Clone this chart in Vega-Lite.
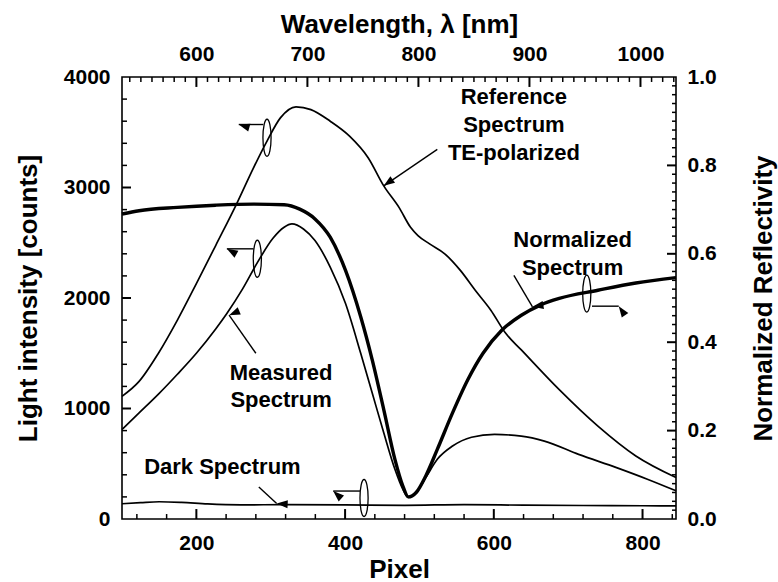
{
  "$schema": "https://vega.github.io/schema/vega-lite/v6.json",
  "autosize": {"type": "none"},
  "padding": {"left": 122, "top": 77, "right": 102, "bottom": 63},
  "width": 554,
  "height": 442,
  "background": "white",
  "config": {
    "view": {"stroke": "black", "strokeWidth": 1.6},
    "axis": {
      "labelFont": "Liberation Sans", "labelFontWeight": "bold", "labelFontSize": 21, "labelColor": "black",
      "titleFont": "Liberation Sans", "titleFontWeight": "bold", "titleFontSize": 26, "titleColor": "black",
      "grid": false, "ticks": false, "domain": false
    }
  },
  "datasets": {
    "curves": [
      {"series": "Reference", "pixel": 100, "counts": 1110},
      {"series": "Reference", "pixel": 123, "counts": 1245},
      {"series": "Reference", "pixel": 149, "counts": 1500},
      {"series": "Reference", "pixel": 174.5, "counts": 1800},
      {"series": "Reference", "pixel": 200, "counts": 2130},
      {"series": "Reference", "pixel": 226, "counts": 2475},
      {"series": "Reference", "pixel": 254, "counts": 2850},
      {"series": "Reference", "pixel": 277, "counts": 3180},
      {"series": "Reference", "pixel": 295, "counts": 3420},
      {"series": "Reference", "pixel": 313, "counts": 3630},
      {"series": "Reference", "pixel": 334, "counts": 3730},
      {"series": "Reference", "pixel": 354, "counts": 3705},
      {"series": "Reference", "pixel": 380, "counts": 3600},
      {"series": "Reference", "pixel": 406, "counts": 3465},
      {"series": "Reference", "pixel": 431, "counts": 3270},
      {"series": "Reference", "pixel": 452, "counts": 3015},
      {"series": "Reference", "pixel": 472.5, "counts": 2820},
      {"series": "Reference", "pixel": 488, "counts": 2640},
      {"series": "Reference", "pixel": 498, "counts": 2565},
      {"series": "Reference", "pixel": 513.6, "counts": 2490},
      {"series": "Reference", "pixel": 534, "counts": 2400},
      {"series": "Reference", "pixel": 555, "counts": 2250},
      {"series": "Reference", "pixel": 575, "counts": 2070},
      {"series": "Reference", "pixel": 596, "counts": 1890},
      {"series": "Reference", "pixel": 616, "counts": 1680},
      {"series": "Reference", "pixel": 637, "counts": 1530},
      {"series": "Reference", "pixel": 688, "counts": 1170},
      {"series": "Reference", "pixel": 740, "counts": 840},
      {"series": "Reference", "pixel": 791, "counts": 570},
      {"series": "Reference", "pixel": 845, "counts": 375},
      {"series": "Measured", "pixel": 100, "counts": 810},
      {"series": "Measured", "pixel": 123, "counts": 960},
      {"series": "Measured", "pixel": 149, "counts": 1130},
      {"series": "Measured", "pixel": 174.5, "counts": 1310},
      {"series": "Measured", "pixel": 200, "counts": 1500},
      {"series": "Measured", "pixel": 226, "counts": 1720},
      {"series": "Measured", "pixel": 241, "counts": 1860},
      {"series": "Measured", "pixel": 262, "counts": 2080},
      {"series": "Measured", "pixel": 282, "counts": 2320},
      {"series": "Measured", "pixel": 303, "counts": 2540},
      {"series": "Measured", "pixel": 318, "counts": 2640},
      {"series": "Measured", "pixel": 328.6, "counts": 2670},
      {"series": "Measured", "pixel": 344, "counts": 2625},
      {"series": "Measured", "pixel": 359.5, "counts": 2520},
      {"series": "Measured", "pixel": 380, "counts": 2280},
      {"series": "Measured", "pixel": 400.6, "counts": 1950},
      {"series": "Measured", "pixel": 421, "counts": 1500},
      {"series": "Measured", "pixel": 436.5, "counts": 1140},
      {"series": "Measured", "pixel": 452, "counts": 780},
      {"series": "Measured", "pixel": 467, "counts": 450},
      {"series": "Measured", "pixel": 477.6, "counts": 270},
      {"series": "Measured", "pixel": 485, "counts": 195},
      {"series": "Measured", "pixel": 495.6, "counts": 240},
      {"series": "Measured", "pixel": 508.5, "counts": 375},
      {"series": "Measured", "pixel": 524, "counts": 540},
      {"series": "Measured", "pixel": 544.5, "counts": 660},
      {"series": "Measured", "pixel": 570, "counts": 740},
      {"series": "Measured", "pixel": 601, "counts": 765},
      {"series": "Measured", "pixel": 637, "counts": 750},
      {"series": "Measured", "pixel": 668, "counts": 705},
      {"series": "Measured", "pixel": 714, "counts": 585},
      {"series": "Measured", "pixel": 765, "counts": 465},
      {"series": "Measured", "pixel": 806.5, "counts": 360},
      {"series": "Measured", "pixel": 845, "counts": 255},
      {"series": "Dark", "pixel": 100, "counts": 138},
      {"series": "Dark", "pixel": 125, "counts": 148},
      {"series": "Dark", "pixel": 150, "counts": 156},
      {"series": "Dark", "pixel": 180, "counts": 150},
      {"series": "Dark", "pixel": 215, "counts": 136},
      {"series": "Dark", "pixel": 260, "counts": 128},
      {"series": "Dark", "pixel": 320, "counts": 130},
      {"series": "Dark", "pixel": 400, "counts": 128},
      {"series": "Dark", "pixel": 480, "counts": 124},
      {"series": "Dark", "pixel": 560, "counts": 130},
      {"series": "Dark", "pixel": 640, "counts": 125},
      {"series": "Dark", "pixel": 720, "counts": 122},
      {"series": "Dark", "pixel": 800, "counts": 120},
      {"series": "Dark", "pixel": 845, "counts": 118}
    ],
    "normalized": [
      {"pixel": 100, "reflectivity": 0.69},
      {"pixel": 123, "reflectivity": 0.6975},
      {"pixel": 174.5, "reflectivity": 0.705},
      {"pixel": 226, "reflectivity": 0.71},
      {"pixel": 277, "reflectivity": 0.7125},
      {"pixel": 318, "reflectivity": 0.711},
      {"pixel": 339, "reflectivity": 0.701},
      {"pixel": 359.5, "reflectivity": 0.679},
      {"pixel": 380, "reflectivity": 0.6375},
      {"pixel": 400.6, "reflectivity": 0.5625},
      {"pixel": 421, "reflectivity": 0.4575},
      {"pixel": 436.5, "reflectivity": 0.36},
      {"pixel": 452, "reflectivity": 0.2475},
      {"pixel": 467, "reflectivity": 0.135},
      {"pixel": 477.6, "reflectivity": 0.075},
      {"pixel": 485, "reflectivity": 0.05},
      {"pixel": 495.6, "reflectivity": 0.06},
      {"pixel": 508.5, "reflectivity": 0.0975},
      {"pixel": 524, "reflectivity": 0.1575},
      {"pixel": 544.5, "reflectivity": 0.24},
      {"pixel": 565, "reflectivity": 0.315},
      {"pixel": 585.5, "reflectivity": 0.375},
      {"pixel": 611, "reflectivity": 0.4275},
      {"pixel": 637, "reflectivity": 0.461},
      {"pixel": 662.6, "reflectivity": 0.484},
      {"pixel": 688, "reflectivity": 0.499},
      {"pixel": 740, "reflectivity": 0.5175},
      {"pixel": 791, "reflectivity": 0.534},
      {"pixel": 845, "reflectivity": 0.546}
    ],
    "axisframe": [
      {"lambda": 533, "reflectivity": 0},
      {"lambda": 1032, "reflectivity": 1}
    ],
    "pixelMajor": [{"pixel": 200}, {"pixel": 400}, {"pixel": 600}, {"pixel": 800}],
    "pixelMinor": [{"pixel": 120}, {"pixel": 160}, {"pixel": 240}, {"pixel": 280}, {"pixel": 320}, {"pixel": 360}, {"pixel": 440}, {"pixel": 480}, {"pixel": 520}, {"pixel": 560}, {"pixel": 640}, {"pixel": 680}, {"pixel": 720}, {"pixel": 760}, {"pixel": 840}],
    "lambdaMajor": [{"lambda": 600}, {"lambda": 700}, {"lambda": 800}, {"lambda": 900}, {"lambda": 1000}],
    "lambdaMinor": [{"lambda": 540}, {"lambda": 550}, {"lambda": 560}, {"lambda": 570}, {"lambda": 580}, {"lambda": 590}, {"lambda": 610}, {"lambda": 620}, {"lambda": 630}, {"lambda": 640}, {"lambda": 650}, {"lambda": 660}, {"lambda": 670}, {"lambda": 680}, {"lambda": 690}, {"lambda": 710}, {"lambda": 720}, {"lambda": 730}, {"lambda": 740}, {"lambda": 750}, {"lambda": 760}, {"lambda": 770}, {"lambda": 780}, {"lambda": 790}, {"lambda": 810}, {"lambda": 820}, {"lambda": 830}, {"lambda": 840}, {"lambda": 850}, {"lambda": 860}, {"lambda": 870}, {"lambda": 880}, {"lambda": 890}, {"lambda": 910}, {"lambda": 920}, {"lambda": 930}, {"lambda": 940}, {"lambda": 950}, {"lambda": 960}, {"lambda": 970}, {"lambda": 980}, {"lambda": 990}, {"lambda": 1010}, {"lambda": 1020}, {"lambda": 1030}],
    "countsMajor": [{"counts": 1000}, {"counts": 2000}, {"counts": 3000}],
    "countsMinor": [{"counts": 200}, {"counts": 400}, {"counts": 600}, {"counts": 800}, {"counts": 1200}, {"counts": 1400}, {"counts": 1600}, {"counts": 1800}, {"counts": 2200}, {"counts": 2400}, {"counts": 2600}, {"counts": 2800}, {"counts": 3200}, {"counts": 3400}, {"counts": 3600}, {"counts": 3800}],
    "reflMajor": [{"reflectivity": 0.2}, {"reflectivity": 0.4}, {"reflectivity": 0.6}, {"reflectivity": 0.8}],
    "reflMinor": [{"reflectivity": 0.02}, {"reflectivity": 0.04}, {"reflectivity": 0.06}, {"reflectivity": 0.08}, {"reflectivity": 0.1}, {"reflectivity": 0.12}, {"reflectivity": 0.14}, {"reflectivity": 0.16}, {"reflectivity": 0.18}, {"reflectivity": 0.22}, {"reflectivity": 0.24}, {"reflectivity": 0.26}, {"reflectivity": 0.28}, {"reflectivity": 0.3}, {"reflectivity": 0.32}, {"reflectivity": 0.34}, {"reflectivity": 0.36}, {"reflectivity": 0.38}, {"reflectivity": 0.42}, {"reflectivity": 0.44}, {"reflectivity": 0.46}, {"reflectivity": 0.48}, {"reflectivity": 0.5}, {"reflectivity": 0.52}, {"reflectivity": 0.54}, {"reflectivity": 0.56}, {"reflectivity": 0.58}, {"reflectivity": 0.62}, {"reflectivity": 0.64}, {"reflectivity": 0.66}, {"reflectivity": 0.68}, {"reflectivity": 0.7}, {"reflectivity": 0.72}, {"reflectivity": 0.74}, {"reflectivity": 0.76}, {"reflectivity": 0.78}, {"reflectivity": 0.82}, {"reflectivity": 0.84}, {"reflectivity": 0.86}, {"reflectivity": 0.88}, {"reflectivity": 0.9}, {"reflectivity": 0.92}, {"reflectivity": 0.94}, {"reflectivity": 0.96}, {"reflectivity": 0.98}],
    "labels": [
      {"pixel": 627, "counts": 3821, "label": "Reference"},
      {"pixel": 627, "counts": 3566, "label": "Spectrum"},
      {"pixel": 627, "counts": 3309, "label": "TE-polarized"},
      {"pixel": 706, "counts": 2525, "label": "Normalized"},
      {"pixel": 706, "counts": 2270, "label": "Spectrum"},
      {"pixel": 314, "counts": 1318, "label": "Measured"},
      {"pixel": 314, "counts": 1077, "label": "Spectrum"},
      {"pixel": 235, "counts": 470, "label": "Dark Spectrum"}
    ],
    "arrows": [
      {"name": "ref", "pixel": 524, "counts": 3345, "pixel2": 452, "counts2": 3015},
      {"name": "meas", "pixel": 280, "counts": 1500, "pixel2": 244, "counts2": 1845},
      {"name": "norm", "pixel": 627, "counts": 2205, "pixel2": 652, "counts2": 1920},
      {"name": "dark", "pixel": 284, "counts": 290, "pixel2": 308, "counts2": 140},
      {"name": "refE", "pixel": 290, "counts": 3570, "pixel2": 257, "counts2": 3570},
      {"name": "measE", "pixel": 277, "counts": 2445, "pixel2": 241, "counts2": 2445},
      {"name": "darkE", "pixel": 420, "counts": 253, "pixel2": 384, "counts2": 253},
      {"name": "normE", "pixel": 732, "counts": 1926, "pixel2": 768, "counts2": 1926}
    ],
    "ellipses": [
      {"pixel": 295, "counts": 3450},
      {"pixel": 282, "counts": 2355},
      {"pixel": 425.5, "counts": 190},
      {"pixel": 725, "counts": 2040}
    ]
  },
  "layer": [
    {
      "data": {"name": "curves"},
      "mark": {"type": "line", "color": "black", "strokeWidth": 1.7, "interpolate": "monotone"},
      "encoding": {
        "x": {"field": "pixel", "type": "quantitative",
          "scale": {"domain": [100, 845], "nice": false, "zero": false},
          "axis": {"orient": "bottom", "values": [200, 400, 600, 800], "format": "d", "labelPadding": 13, "title": "Pixel", "titlePadding": 3}},
        "y": {"field": "counts", "type": "quantitative",
          "scale": {"domain": [0, 4000], "nice": false, "zero": false},
          "axis": {"orient": "left", "values": [0, 1000, 2000, 3000, 4000], "format": "d", "labelPadding": 12,
            "title": "Light intensity [counts]", "titleAngle": 270, "titleX": -94, "titleY": 221, "titleBaseline": "middle", "titleAlign": "center"}},
        "detail": {"field": "series", "type": "nominal"}
      }
    },
    {
      "data": {"name": "normalized"},
      "mark": {"type": "line", "color": "black", "strokeWidth": 3.4, "interpolate": "monotone"},
      "encoding": {
        "x": {"field": "pixel", "type": "quantitative", "scale": {"domain": [100, 845], "nice": false, "zero": false}, "axis": null},
        "y": {"field": "reflectivity", "type": "quantitative",
          "scale": {"domain": [0, 1], "nice": false, "zero": false},
          "axis": {"orient": "right", "values": [0, 0.2, 0.4, 0.6, 0.8, 1.0], "format": ".1f", "labelPadding": 11,
            "title": "Normalized Reflectivity", "titleAngle": 270, "titleX": 87, "titleY": 221, "titleBaseline": "middle", "titleAlign": "center"}}
      }
    },
    {
      "data": {"name": "axisframe"},
      "mark": {"type": "point", "opacity": 0},
      "encoding": {
        "x": {"field": "lambda", "type": "quantitative",
          "scale": {"domain": [533, 1032], "nice": false, "zero": false},
          "axis": {"orient": "top", "values": [600, 700, 800, 900, 1000], "format": "d", "labelPadding": 13, "title": "Wavelength, λ [nm]", "titlePadding": 6}},
        "y": {"field": "reflectivity", "type": "quantitative", "scale": {"domain": [0, 1], "nice": false, "zero": false}, "axis": null}
      }
    },
    {
      "data": {"name": "pixelMajor"},
      "mark": {"type": "rule", "color": "black", "strokeWidth": 2},
      "encoding": {
        "x": {"field": "pixel", "type": "quantitative", "scale": {"domain": [100, 845], "nice": false, "zero": false}, "axis": null},
        "y": {"datum": 0, "type": "quantitative", "scale": {"domain": [0, 4000], "nice": false, "zero": false}, "axis": null},
        "y2": {"datum": 90}
      }
    },
    {
      "data": {"name": "pixelMinor"},
      "mark": {"type": "rule", "color": "black", "strokeWidth": 1.5},
      "encoding": {
        "x": {"field": "pixel", "type": "quantitative", "scale": {"domain": [100, 845], "nice": false, "zero": false}, "axis": null},
        "y": {"datum": 0, "type": "quantitative", "scale": {"domain": [0, 4000], "nice": false, "zero": false}, "axis": null},
        "y2": {"datum": 45}
      }
    },
    {
      "data": {"name": "lambdaMajor"},
      "mark": {"type": "rule", "color": "black", "strokeWidth": 2},
      "encoding": {
        "x": {"field": "lambda", "type": "quantitative", "scale": {"domain": [533, 1032], "nice": false, "zero": false}, "axis": null},
        "y": {"datum": 4000, "type": "quantitative", "scale": {"domain": [0, 4000], "nice": false, "zero": false}, "axis": null},
        "y2": {"datum": 3910}
      }
    },
    {
      "data": {"name": "lambdaMinor"},
      "mark": {"type": "rule", "color": "black", "strokeWidth": 1.5},
      "encoding": {
        "x": {"field": "lambda", "type": "quantitative", "scale": {"domain": [533, 1032], "nice": false, "zero": false}, "axis": null},
        "y": {"datum": 4000, "type": "quantitative", "scale": {"domain": [0, 4000], "nice": false, "zero": false}, "axis": null},
        "y2": {"datum": 3955}
      }
    },
    {
      "data": {"name": "countsMajor"},
      "mark": {"type": "rule", "color": "black", "strokeWidth": 2},
      "encoding": {
        "y": {"field": "counts", "type": "quantitative", "scale": {"domain": [0, 4000], "nice": false, "zero": false}, "axis": null},
        "x": {"datum": 100, "type": "quantitative", "scale": {"domain": [100, 845], "nice": false, "zero": false}, "axis": null},
        "x2": {"datum": 112.1}
      }
    },
    {
      "data": {"name": "countsMinor"},
      "mark": {"type": "rule", "color": "black", "strokeWidth": 1.5},
      "encoding": {
        "y": {"field": "counts", "type": "quantitative", "scale": {"domain": [0, 4000], "nice": false, "zero": false}, "axis": null},
        "x": {"datum": 100, "type": "quantitative", "scale": {"domain": [100, 845], "nice": false, "zero": false}, "axis": null},
        "x2": {"datum": 106.7}
      }
    },
    {
      "data": {"name": "reflMajor"},
      "mark": {"type": "rule", "color": "black", "strokeWidth": 2},
      "encoding": {
        "y": {"field": "reflectivity", "type": "quantitative", "scale": {"domain": [0, 1], "nice": false, "zero": false}, "axis": null},
        "x": {"datum": 845, "type": "quantitative", "scale": {"domain": [100, 845], "nice": false, "zero": false}, "axis": null},
        "x2": {"datum": 832.9}
      }
    },
    {
      "data": {"name": "reflMinor"},
      "mark": {"type": "rule", "color": "black", "strokeWidth": 1.5},
      "encoding": {
        "y": {"field": "reflectivity", "type": "quantitative", "scale": {"domain": [0, 1], "nice": false, "zero": false}, "axis": null},
        "x": {"datum": 845, "type": "quantitative", "scale": {"domain": [100, 845], "nice": false, "zero": false}, "axis": null},
        "x2": {"datum": 839.6}
      }
    },
    {
      "data": {"name": "labels"},
      "mark": {"type": "text", "font": "Liberation Sans", "fontWeight": "bold", "fontSize": 22, "color": "black", "align": "center", "baseline": "middle"},
      "encoding": {
        "x": {"field": "pixel", "type": "quantitative", "scale": {"domain": [100, 845], "nice": false, "zero": false}, "axis": null},
        "y": {"field": "counts", "type": "quantitative", "scale": {"domain": [0, 4000], "nice": false, "zero": false}, "axis": null},
        "text": {"field": "label", "type": "nominal"}
      }
    },
    {
      "data": {"name": "arrows"},
      "mark": {"type": "rule", "color": "black", "strokeWidth": 1.4},
      "encoding": {
        "x": {"field": "pixel", "type": "quantitative", "scale": {"domain": [100, 845], "nice": false, "zero": false}, "axis": null},
        "x2": {"field": "pixel2"},
        "y": {"field": "counts", "type": "quantitative", "scale": {"domain": [0, 4000], "nice": false, "zero": false}, "axis": null},
        "y2": {"field": "counts2"}
      }
    },
    {
      "data": {"name": "arrows"},
      "mark": {"type": "point", "shape": "M0,0L0.8,2.2L-0.8,2.2Z", "filled": true, "color": "black", "size": 100, "opacity": 1},
      "encoding": {
        "x": {"field": "pixel2", "type": "quantitative", "scale": {"domain": [100, 845], "nice": false, "zero": false}, "axis": null},
        "y": {"field": "counts2", "type": "quantitative", "scale": {"domain": [0, 4000], "nice": false, "zero": false}, "axis": null},
        "angle": {"field": "name", "type": "nominal", "legend": null,
          "scale": {"domain": ["ref", "meas", "norm", "dark", "refE", "measE", "darkE", "normE"],
                    "range": [234.5, 325, 149.4, 133.5, 270, 270, 270, 90]}}
      }
    },
    {
      "data": {"name": "ellipses"},
      "mark": {"type": "point", "shape": "M0,-1C0.121,-1 0.22,-0.552 0.22,0C0.22,0.552 0.121,1 0,1C-0.121,1 -0.22,0.552 -0.22,0C-0.22,-0.552 -0.121,-1 0,-1Z",
        "filled": false, "stroke": "black", "strokeWidth": 1.3, "size": 1369, "opacity": 1},
      "encoding": {
        "x": {"field": "pixel", "type": "quantitative", "scale": {"domain": [100, 845], "nice": false, "zero": false}, "axis": null},
        "y": {"field": "counts", "type": "quantitative", "scale": {"domain": [0, 4000], "nice": false, "zero": false}, "axis": null}
      }
    }
  ],
  "resolve": {"scale": {"x": "independent", "y": "independent"}, "axis": {"x": "independent", "y": "independent"}}
}
